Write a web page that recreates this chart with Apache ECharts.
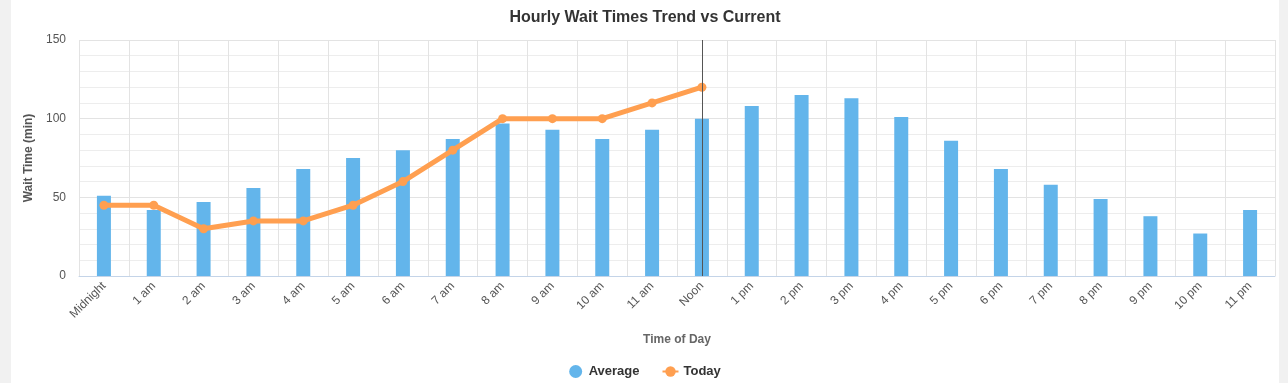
<!DOCTYPE html>
<html>
<head>
<meta charset="utf-8">
<script src="https://cdn.jsdelivr.net/npm/echarts@6/dist/echarts.min.js"></script>
<style>
  html, body { margin: 0; padding: 0; background: #f1f1f1; width: 1288px; height: 383px; overflow: hidden; }
  #wrap { position: absolute; left: 11px; top: 0; width: 1268px; height: 383px; background: #ffffff; }
  #chart { width: 1268px; height: 383px; }
</style>
</head>
<body>
<div id="wrap"><div id="chart"></div></div>
<script>
const categories = ['Midnight','1 am','2 am','3 am','4 am','5 am','6 am','7 am','8 am','9 am','10 am','11 am','Noon','1 pm','2 pm','3 pm','4 pm','5 pm','6 pm','7 pm','8 pm','9 pm','10 pm','11 pm'];
const averageValues = [51, 42, 47, 56, 68, 75, 80, 87, 97, 93, 87, 93, 100, 108, 115, 113, 101, 86, 68, 58, 49, 38, 27, 42];
const todayValues = [45, 45, 30, 35, 35, 45, 60, 80, 100, 100, 100, 110, 120];
const currentHour = 'Noon';

const font = '"Liberation Sans", Arial, sans-serif';
const chart = echarts.init(document.getElementById('chart'));
chart.setOption({
  animation: false,
  textStyle: { fontFamily: font },
  title: {
    text: 'Hourly Wait Times Trend vs Current',
    left: 'center', top: 5,
    textStyle: { fontSize: 16, fontWeight: 'bold', color: '#333', fontFamily: font }
  },
  legend: {
    top: 360,
    left: 'center',
    itemWidth: 16, itemHeight: 13, itemGap: 22,
    textStyle: { fontSize: 13, fontWeight: 'bold', color: '#333', fontFamily: font },
    data: [{ name: 'Average', icon: 'circle' }, { name: 'Today' }]
  },
  grid: { left: 68, right: 4, top: 40, bottom: 107, containLabel: false },
  xAxis: {
    type: 'category',
    data: categories,
    boundaryGap: true,
    name: 'Time of Day',
    nameLocation: 'middle',
    nameGap: 58,
    nameTextStyle: { fontSize: 12, fontWeight: 'bold', color: '#666', fontFamily: font },
    axisLine: { show: true, lineStyle: { color: '#c4d4e8', width: 1 } },
    axisTick: { show: false },
    axisLabel: { rotate: 45, fontSize: 12, color: '#555', margin: 8, interval: 0, fontFamily: font },
    splitLine: { show: true, lineStyle: { color: '#e3e3e3', width: 1 } }
  },
  yAxis: {
    type: 'value',
    min: 0, max: 150, interval: 50,
    name: 'Wait Time (min)',
    nameLocation: 'middle',
    nameGap: 36,
    nameTextStyle: { fontSize: 12, fontWeight: 'bold', color: '#555', fontFamily: font },
    axisLine: { show: false },
    axisTick: { show: false },
    axisLabel: { fontSize: 12, color: '#555', margin: 13, fontFamily: font },
    splitLine: { show: true, lineStyle: { color: '#e3e3e3', width: 1 } },
    minorTick: { show: false, splitNumber: 5 },
    minorSplitLine: { show: true, lineStyle: { color: '#ededed', width: 1 } }
  },
  series: [
    {
      name: 'Average',
      type: 'bar',
      data: averageValues,
      barWidth: 14,
      itemStyle: { color: '#63b5eb' },
      z: 2
    },
    {
      name: 'Today',
      type: 'line',
      data: todayValues,
      symbol: 'circle',
      symbolSize: 9,
      lineStyle: { color: '#ff9f50', width: 5 },
      itemStyle: { color: '#ff9f50' },
      z: 3,
      markLine: {
        silent: true,
        symbol: 'none',
        label: { show: false },
        lineStyle: { color: '#555', width: 1, type: 'solid' },
        data: [{ xAxis: currentHour }],
        z: 5
      }
    }
  ]
});
</script>
</body>
</html>
